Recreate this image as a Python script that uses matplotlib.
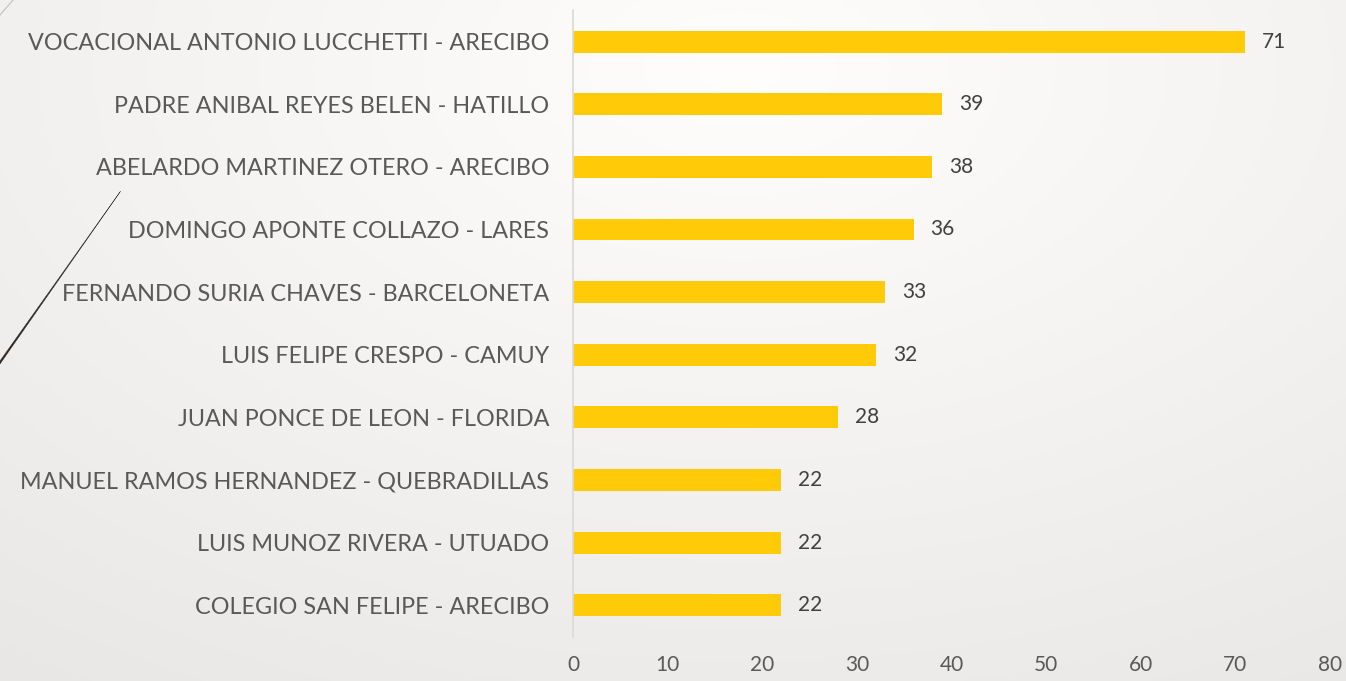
import matplotlib.pyplot as plt
import numpy as np
from matplotlib.lines import Line2D
from matplotlib.patches import Polygon

# Data (top to bottom as shown in the chart)
schools = [
    'VOCACIONAL ANTONIO LUCCHETTI - ARECIBO',
    'PADRE ANIBAL REYES BELEN - HATILLO',
    'ABELARDO MARTINEZ OTERO - ARECIBO',
    'DOMINGO APONTE COLLAZO - LARES',
    'FERNANDO SURIA CHAVES - BARCELONETA',
    'LUIS FELIPE CRESPO - CAMUY',
    'JUAN PONCE DE LEON - FLORIDA',
    'MANUEL RAMOS HERNANDEZ - QUEBRADILLAS',
    'LUIS MUNOZ RIVERA - UTUADO',
    'COLEGIO SAN FELIPE - ARECIBO',
]
counts = [71, 39, 38, 36, 33, 32, 28, 22, 22, 22]
x_ticks = [0, 10, 20, 30, 40, 50, 60, 70, 80]

plt.rcParams['font.family'] = ['Lato', 'DejaVu Sans']

fig = plt.figure(figsize=(13.46, 6.81), dpi=100)

# soft background gradient
bg = fig.add_axes([0, 0, 1, 1], zorder=-10)
yy, xx = np.mgrid[0:1:200j, 0:1:400j]
d = np.sqrt(((xx - 0.55) * 1.2) ** 2 + ((yy - 0.1) * 1.0) ** 2)
shade = 1.0 - 0.08 * np.clip(d, 0, 1.2)
img = np.dstack([shade, shade * 0.995, shade * 0.99])
bg.imshow(np.clip(img, 0, 1), extent=[0, 1, 0, 1], aspect='auto', origin='upper')
bg.axis('off')

# decorative slanted lines on the left
fig.add_artist(Line2D([0.0, 0.0097], [0.978, 1.0], transform=fig.transFigure,
                      color='#bfbfbf', lw=0.8))
# tapered dark stroke, thin at top, thicker at bottom
fig.add_artist(Polygon([(0.0893, 0.7185), (0.0, 0.4655), (0.0, 0.4700), (0.0895, 0.7190)],
                       closed=True, transform=fig.transFigure,
                       facecolor='#2b2622', edgecolor='#2b2622', lw=0.3))

ax = fig.add_axes([0.4257, 0.065, 0.988 - 0.4257, 0.92])
ax.patch.set_alpha(0)

y = np.arange(len(schools))
ax.barh(y, counts, height=0.35, color='#FFCA08')
for yi, v in zip(y, counts):
    ax.text(v + 1.8, yi, str(v), va='center', ha='left', fontsize=15, color='#404040')

ax.set_ylim(len(schools) - 0.5, -0.5)
ax.set_xlim(0, 80)
ax.set_yticks(y)
ax.set_yticklabels(schools, fontsize=16.8, color='#595959')
ax.set_xticks(x_ticks)
ax.set_xticklabels([str(t) for t in x_ticks], fontsize=15, color='#595959')
ax.tick_params(axis='both', length=0)
ax.tick_params(axis='y', pad=17)
ax.tick_params(axis='x', pad=13)

for s in ['top', 'right', 'bottom']:
    ax.spines[s].set_visible(False)
ax.spines['left'].set_color('#d9d9d9')
ax.spines['left'].set_linewidth(1.2)

fig.savefig('out.png', dpi=100)
